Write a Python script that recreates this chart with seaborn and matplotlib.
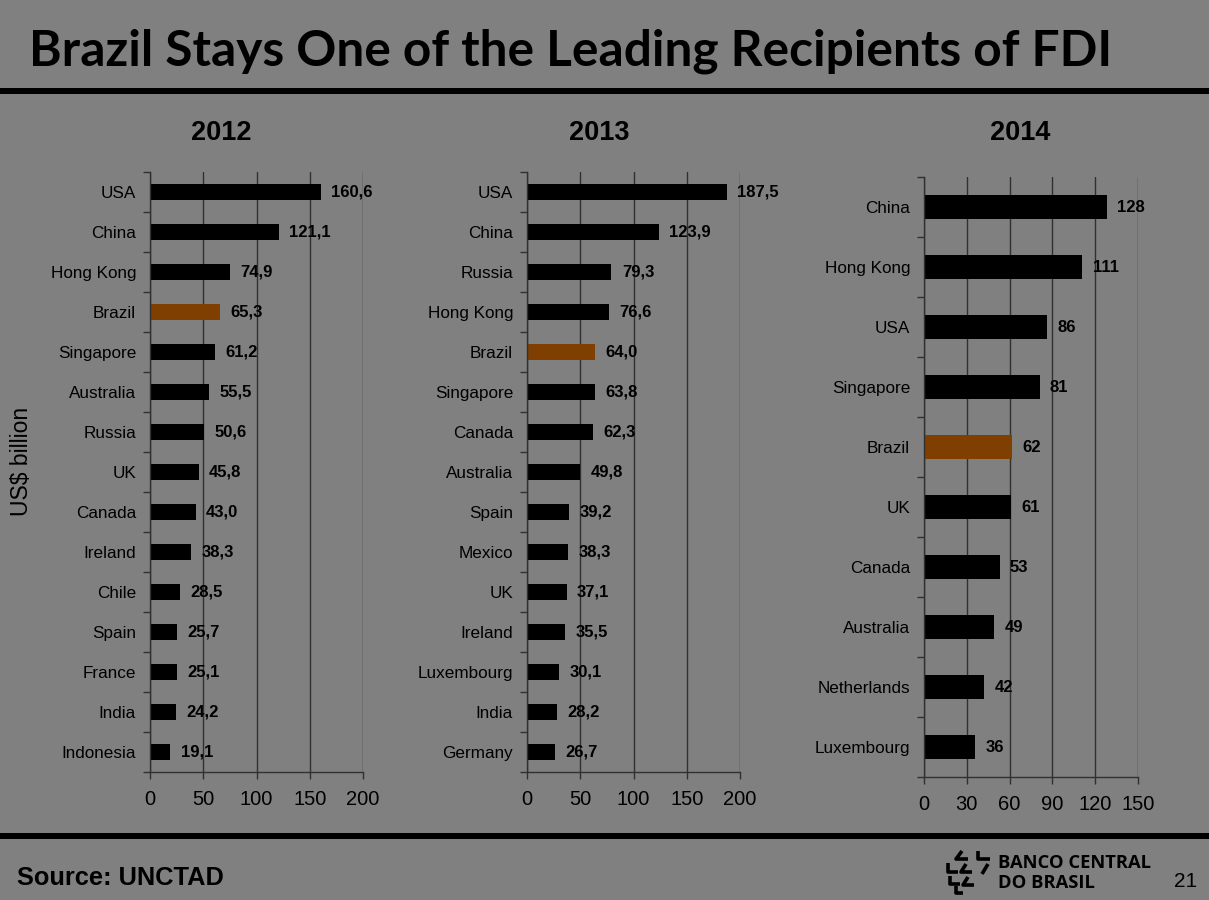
import numpy as np
import pandas as pd
import matplotlib.pyplot as plt
import seaborn as sns
from matplotlib.lines import Line2D

# FDI inflows, US$ billion (UNCTAD)
countries_2012 = ['USA', 'China', 'Hong Kong', 'Brazil', 'Singapore', 'Australia', 'Russia', 'UK',
                  'Canada', 'Ireland', 'Chile', 'Spain', 'France', 'India', 'Indonesia']
values_2012 = [160.6, 121.1, 74.9, 65.3, 61.2, 55.5, 50.6, 45.8, 43.0, 38.3, 28.5, 25.7, 25.1, 24.2, 19.1]

countries_2013 = ['USA', 'China', 'Russia', 'Hong Kong', 'Brazil', 'Singapore', 'Canada', 'Australia',
                  'Spain', 'Mexico', 'UK', 'Ireland', 'Luxembourg', 'India', 'Germany']
values_2013 = [187.5, 123.9, 79.3, 76.6, 64.0, 63.8, 62.3, 49.8, 39.2, 38.3, 37.1, 35.5, 30.1, 28.2, 26.7]

countries_2014 = ['China', 'Hong Kong', 'USA', 'Singapore', 'Brazil', 'UK', 'Canada', 'Australia',
                  'Netherlands', 'Luxembourg']
values_2014 = [128, 111, 86, 81, 62, 61, 53, 49, 42, 36]

years = ['2012', '2013', '2014']
xticks = [[0, 50, 100, 150, 200], [0, 50, 100, 150, 200], [0, 30, 60, 90, 120, 150]]

BG = '#808080'
DARK = '#303030'
BRAZIL = '#7F3F00'

W, H = 1209, 900

def px(x):
    return x / W

def py(y):
    return 1 - y / H

sns.set_theme(style='white')
plt.rcParams['font.family'] = ['Liberation Sans', 'DejaVu Sans']

fig = plt.figure(figsize=(12.09, 9), dpi=100)
fig.patch.set_facecolor(BG)

# axes boxes in pixels: left, top, right, bottom
boxes = [(150, 172, 363, 772), (527, 172, 740, 772), (924, 177, 1138, 777)]
title_x = [221, 599, 1020]

datasets = [(countries_2012, values_2012, True),
            (countries_2013, values_2013, True),
            (countries_2014, values_2014, False)]

for i, (cats, vals, decimal) in enumerate(datasets):
    l, t, r, b = boxes[i]
    ax = fig.add_axes([px(l), py(b), px(r) - px(l), (b - t) / H])
    ax.set_facecolor(BG)
    df = pd.DataFrame({'country': cats, 'value': vals})
    pal = {c: (BRAZIL if c == 'Brazil' else 'black') for c in cats}
    sns.barplot(data=df, x='value', y='country', hue='country', palette=pal, legend=False,
                width=0.4, saturation=1, linewidth=0, orient='h', ax=ax)
    for cont in ax.containers:
        labs = [(f'{v:.1f}'.replace('.', ',') if decimal else f'{v:.0f}') for v in cont.datavalues]
        ax.bar_label(cont, labels=labs, padding=7.5, fontsize=12, fontweight='bold', color='black')

    n = len(cats)
    ax.set_xlim(0, xticks[i][-1])
    ax.set_ylim(n - 0.5, -0.5)
    ax.set_xticks(xticks[i])
    ax.set_yticks(np.arange(-0.5, n, 1), minor=True)
    ax.set_axisbelow(True)
    ax.grid(axis='x', color=DARK, lw=1)
    ax.grid(axis='y', visible=False)
    ax.set_xlabel('')
    ax.set_ylabel('')
    sns.despine(ax=ax)
    for s in ['left', 'bottom']:
        ax.spines[s].set_color(DARK)
        ax.spines[s].set_linewidth(1)
    ax.tick_params(axis='y', which='major', length=0, pad=10, labelsize=12.3, labelcolor='black')
    ax.tick_params(axis='y', which='minor', length=5, width=1, color=DARK, direction='out', left=True)
    ax.tick_params(axis='x', length=5, width=1, color=DARK, direction='out', bottom=True,
                   pad=8, labelsize=14.5, labelcolor='black')

    fig.text(px(title_x[i]), py(133), years[i], ha='center', va='center',
             fontsize=19.5, fontweight='bold', color='black')

fig.text(px(22), py(461), 'US$ billion', rotation=90, ha='center', va='center',
         fontsize=16.5, color='black')

# header / footer rules
fig.add_artist(Line2D([0, 1], [py(91), py(91)], transform=fig.transFigure, color='black', lw=4.3))
fig.add_artist(Line2D([0, 1], [py(836), py(836)], transform=fig.transFigure, color='black', lw=4.3))

# main title, stretched to its width in the slide
title = fig.text(px(29), py(66), 'Brazil Stays One of the Leading Recipients of FDI',
                 ha='left', va='baseline', fontsize=40, fontweight='bold', color='black',
                 family=['Lato', 'DejaVu Sans'])
fig.canvas.draw()
w = title.get_window_extent().width
title.set_fontsize(40 * 1082 / w)

fig.text(px(17), py(885), 'Source: UNCTAD', ha='left', va='baseline',
         fontsize=18.3, fontweight='bold', color='black')
fig.text(px(1197), py(887), '21', ha='right', va='baseline', fontsize=15, color='black')

# central bank logo
logo1 = fig.text(px(998), py(868), 'BANCO CENTRAL', ha='left', va='baseline', fontsize=14,
                 fontweight='bold', color='black', family=['Open Sans', 'DejaVu Sans'])
logo2 = fig.text(px(998), py(888), 'DO BRASIL', ha='left', va='baseline', fontsize=14,
                 fontweight='bold', color='black', family=['Open Sans', 'DejaVu Sans'])
fig.canvas.draw()
s = 154 / logo1.get_window_extent().width
logo1.set_fontsize(14 * s)
logo2.set_fontsize(14 * s)

strokes = [
    [(962, 851), (956, 859), (968, 859)],
    [(978, 851), (978, 859), (990, 859)],
    [(948, 863), (948, 872), (958, 872)],
    [(966, 864), (961, 872), (972, 872)],
    [(988, 864), (982, 874)],
    [(950, 876), (950, 884), (960, 884)],
    [(968, 877), (963, 885), (974, 885)],
    [(956, 886), (956, 893), (963, 893)],
]
for st in strokes:
    xs = [px(p[0]) for p in st]
    ys = [py(p[1]) for p in st]
    fig.add_artist(Line2D(xs, ys, transform=fig.transFigure, color='black', lw=2.6,
                          solid_capstyle='butt'))

plt.savefig('out.png', dpi=100, facecolor=BG)
